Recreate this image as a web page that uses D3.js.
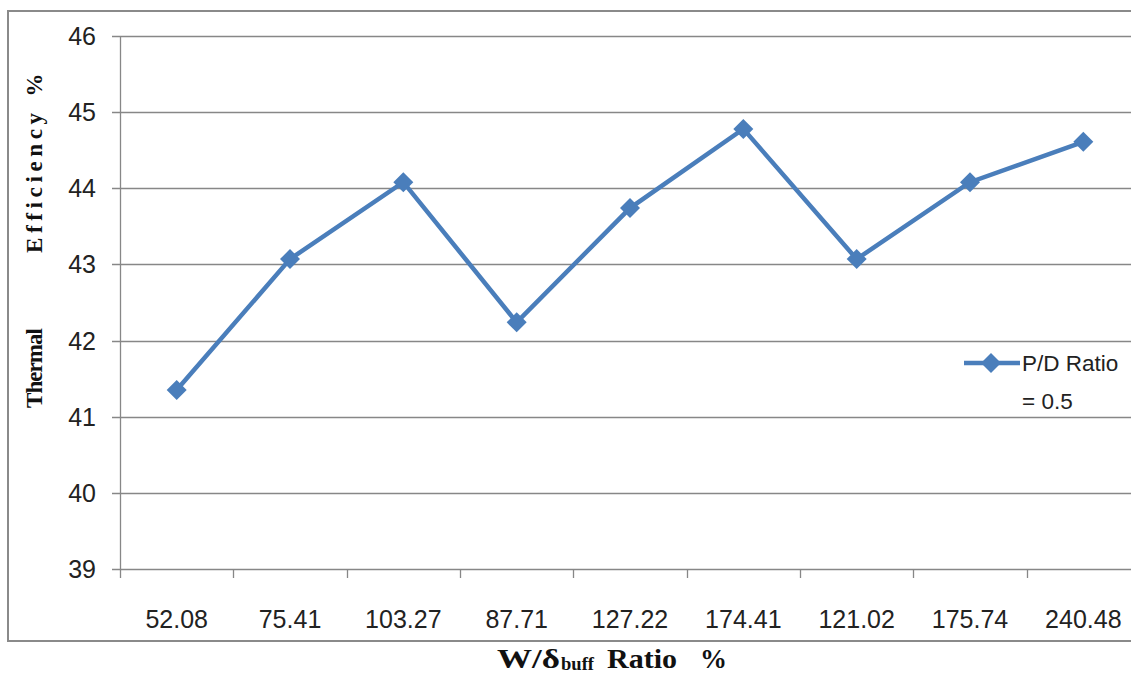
<!DOCTYPE html>
<html>
<head>
<meta charset="utf-8">
<script src="https://cdn.jsdelivr.net/npm/d3@7"></script>
<style>
  html, body { margin: 0; padding: 0; background: #fff; }
  svg { display: block; }
</style>
</head>
<body>
<svg id="chart" width="1131" height="674"></svg>
<script>
// W/δbuff ratio categories (x axis) and thermal efficiency values
const categories = ["52.08", "75.41", "103.27", "87.71", "127.22", "174.41", "121.02", "175.74", "240.48"];
const efficiency = [41.35, 43.07, 44.08, 42.24, 43.74, 44.78, 43.07, 44.08, 44.61];
const yTicks = [39, 40, 41, 42, 43, 44, 45, 46];
const seriesName = ["P/D Ratio", "= 0.5"];

const svg = d3.select("#chart");
const margin = { left: 120, top: 36, right: 1140, bottom: 569 };
const gridColor = "#878787";
const lineColor = "#4a7ebb";
const tickFont = "'Liberation Sans', Arial, sans-serif";
const titleFont = "'Liberation Serif', 'Times New Roman', serif";

// outer chart frame
svg.append("rect")
  .attr("x", 8).attr("y", 11)
  .attr("width", 1140).attr("height", 630)
  .attr("fill", "#fff")
  .attr("stroke", "#8a8a8a").attr("stroke-width", 2);

const x = d3.scaleBand().domain(categories).range([margin.left, margin.right]);
const y = d3.scaleLinear().domain([39, 46]).range([margin.bottom, margin.top]);

// horizontal gridlines with small left ticks
svg.append("g").selectAll("line").data(yTicks).join("line")
  .attr("x1", margin.left - 8).attr("x2", margin.right)
  .attr("y1", d => Math.round(y(d)) + 0.5).attr("y2", d => Math.round(y(d)) + 0.5)
  .attr("stroke", gridColor).attr("stroke-width", 1.3);

// y axis line
svg.append("line")
  .attr("x1", margin.left + 0.5).attr("x2", margin.left + 0.5)
  .attr("y1", margin.top).attr("y2", margin.bottom + 9)
  .attr("stroke", gridColor).attr("stroke-width", 1.3);

// x tick marks at category boundaries
const boundaries = categories.map(c => x(c)).concat([margin.right]);
svg.append("g").selectAll("line").data(boundaries.slice(1)).join("line")
  .attr("x1", d => Math.round(d) + 0.5).attr("x2", d => Math.round(d) + 0.5)
  .attr("y1", margin.bottom).attr("y2", margin.bottom + 9)
  .attr("stroke", gridColor).attr("stroke-width", 1.3);

// y tick labels
svg.append("g").selectAll("text").data(yTicks).join("text")
  .attr("x", 96).attr("y", d => y(d))
  .attr("dy", "0.36em")
  .attr("text-anchor", "end")
  .attr("font-family", tickFont).attr("font-size", 25)
  .attr("fill", "#222")
  .text(d => d);

// x tick labels
svg.append("g").selectAll("text").data(categories).join("text")
  .attr("x", d => x(d) + x.bandwidth() / 2).attr("y", 628)
  .attr("text-anchor", "middle")
  .attr("font-family", tickFont).attr("font-size", 25)
  .attr("fill", "#222")
  .text(d => d);

// data line
const pts = categories.map((c, i) => [x(c) + x.bandwidth() / 2, y(efficiency[i])]);
svg.append("path")
  .attr("d", d3.line()(pts))
  .attr("fill", "none")
  .attr("stroke", lineColor).attr("stroke-width", 4.5)
  .attr("stroke-linejoin", "miter");

// diamond markers
const diamond = d3.symbol().type(d3.symbolSquare).size(200);
svg.append("g").selectAll("path").data(pts).join("path")
  .attr("d", diamond())
  .attr("transform", d => `translate(${d[0]},${d[1]}) rotate(45)`)
  .attr("fill", lineColor);

// legend
const lg = svg.append("g");
lg.append("line")
  .attr("x1", 964).attr("x2", 1020).attr("y1", 363).attr("y2", 363)
  .attr("stroke", lineColor).attr("stroke-width", 4.5);
lg.append("path")
  .attr("d", diamond())
  .attr("transform", "translate(991,363) rotate(45)")
  .attr("fill", lineColor);
lg.selectAll("text").data(seriesName).join("text")
  .attr("x", 1022).attr("y", (d, i) => 371 + i * 38)
  .attr("font-family", tickFont).attr("font-size", 22.5)
  .attr("fill", "#222")
  .text(d => d);

// y axis title (rotated), word by word
const yt = svg.append("g").attr("transform", "translate(42,0) rotate(-90)");
[["Thermal", -368, 80], ["Efficiency", -183, 140], ["%", -85, 22]].forEach(([t, cy, len]) => {
  yt.append("text")
    .attr("x", cy).attr("y", 0)
    .attr("text-anchor", "middle")
    .attr("font-family", titleFont).attr("font-weight", "bold").attr("font-size", 23)
    .attr("textLength", len).attr("lengthAdjust", "spacing")
    .attr("fill", "#111")
    .text(t);
});

// x axis title with subscript
const xParts = [
  { t: "W/δ", x: 497, y: 668, size: 28, len: 63 },
  { t: "buff", x: 561, y: 670, size: 18, len: 33 },
  { t: "Ratio", x: 607, y: 668, size: 28, len: 70 },
  { t: "%", x: 700, y: 668, size: 28, len: 27 }
];
svg.append("g").selectAll("text").data(xParts).join("text")
  .attr("x", d => d.x).attr("y", d => d.y)
  .attr("font-family", titleFont).attr("font-weight", "bold")
  .attr("font-size", d => d.size)
  .attr("textLength", d => d.len).attr("lengthAdjust", "spacingAndGlyphs")
  .attr("fill", "#111")
  .text(d => d.t);
</script>
</body>
</html>
